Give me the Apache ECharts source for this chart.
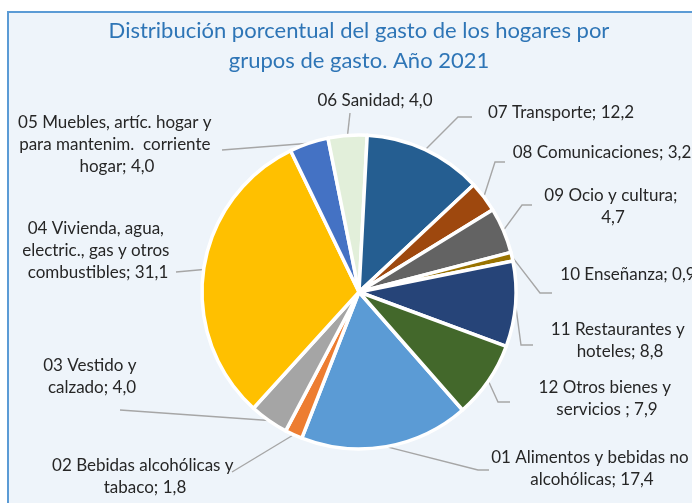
<!DOCTYPE html>
<html>
<head>
<meta charset="utf-8">
<script src="https://cdn.jsdelivr.net/npm/echarts@6/dist/echarts.min.js"></script>
<style>
  html, body { margin: 0; padding: 0; width: 692px; height: 503px; overflow: hidden; background: #fff; }
  #frame { position: absolute; left: 7px; top: 11px; width: 720px; height: 520px; background: #EEF4FA;
           border-top: 2px solid #5B9BD5; border-left: 2px solid #5B9BD5; }
  #chart { position: absolute; left: 0; top: 0; width: 718px; height: 503px; }
</style>
</head>
<body>
<div id="frame"></div>
<div id="chart"></div>
<script>
const groups = [
  "01 Alimentos y bebidas no alcohólicas",
  "02 Bebidas alcohólicas y tabaco",
  "03 Vestido y calzado",
  "04 Vivienda, agua, electric., gas y otros combustibles",
  "05 Muebles, artíc. hogar y para mantenim.  corriente hogar",
  "06 Sanidad",
  "07 Transporte",
  "08 Comunicaciones",
  "09 Ocio y cultura",
  "10 Enseñanza",
  "11 Restaurantes y hoteles",
  "12 Otros bienes y servicios ",
];
const shares = [17.4, 1.8, 4.0, 31.1, 4.0, 4.0, 12.2, 3.2, 4.7, 0.9, 8.8, 7.9];
const sliceColors = [
  "#5B9BD5", "#ED7D31", "#A5A5A5", "#FFC000", "#4472C4", "#E2EFDA",
  "#255E91", "#9E480E", "#636363", "#997300", "#264478", "#43682B",
];

// where each data label sits (centre of the text block), its wrap width,
// and the leader line bends after it leaves the slice
const labelPos = [
  { x: 592, y: 469, w: 212, line: [[478, 470], [489, 470]] },
  { x: 145, y: 477, w: 195, line: [[232, 472], [232, 472]] },
  { x: 92,  y: 377, w: 105, line: [[120, 410], [120, 410]] },
  { x: 98,  y: 251, w: 160, line: [[176, 272], [176, 272]] },
  { x: 117, y: 145, w: 216, line: [[222, 150], [222, 150]] },
  { x: 375, y: 101, w: 0,   line: [[350, 113], [350, 113]] },
  { x: 561, y: 113, w: 0,   line: [[458, 117], [472, 117]] },
  { x: 602, y: 153, w: 0,   line: [[495, 162], [505, 162]] },
  { x: 613, y: 207, w: 143, line: [[522, 205], [532, 205]] },
  { x: 628, y: 275, w: 0,   line: [[540, 293], [552, 293]] },
  { x: 620, y: 341, w: 150, line: [[521, 345], [533, 345]] },
  { x: 607, y: 399, w: 145, line: [[498, 402], [510, 402]] },
];

const fmt = (v) => v.toFixed(1).replace(".", ",");

const chart = echarts.init(document.getElementById("chart"), null, { renderer: "canvas" });

chart.setOption({
  animation: false,
  title: {
    text: "Distribución porcentual del gasto de los hogares por\ngrupos de gasto. Año 2021",
    left: "center",
    top: 16,
    padding: 0,
    textStyle: {
      fontFamily: "Lato",
      fontSize: 22,
      fontWeight: "normal",
      color: "#2E75B6",
      lineHeight: 30,
    },
  },
  series: [
    {
      type: "pie",
      center: [359, 292],
      radius: 157,
      startAngle: 311.28,
      clockwise: true,
      avoidLabelOverlap: false,
      selectedMode: false,
      emphasis: { disabled: true },
      itemStyle: { borderColor: "#ffffff", borderWidth: 3.5 },
      label: {
        show: true,
        position: "outside",
        fontFamily: "Lato",
        fontSize: 17,
        lineHeight: 22,
        color: "#262626",
        align: "center",
        formatter: (p) => p.name + "; " + fmt(p.value),
      },
      labelLine: {
        show: true,
        smooth: false,
        lineStyle: { color: "#A6A6A6", width: 1.4 },
      },
      labelLayout: (params) => {
        const pos = labelPos[params.dataIndex];
        const start = params.labelLinePoints ? params.labelLinePoints[0] : [params.rect.x, params.rect.y];
        return {
          x: pos.x,
          y: pos.y,
          align: "center",
          verticalAlign: "middle",
          labelLinePoints: [start, pos.line[0], pos.line[1]],
        };
      },
      data: groups.map((name, i) => ({
        name: name,
        value: shares[i],
        itemStyle: { color: sliceColors[i] },
        label: labelPos[i].w ? { width: labelPos[i].w, overflow: "break" } : {},
      })),
    },
  ],
});
</script>
</body>
</html>
